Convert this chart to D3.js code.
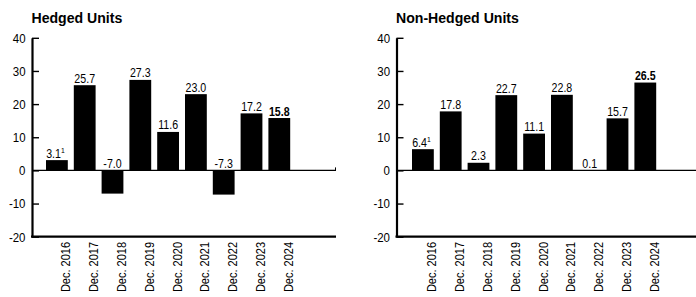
<!DOCTYPE html>
<html><head><meta charset="utf-8">
<script src="https://cdn.jsdelivr.net/npm/d3@7"></script>
<style>
html,body{margin:0;padding:0;background:#fff;}
svg{display:block;}
text{font-family:"Liberation Sans",Arial,sans-serif;fill:#000;}
</style></head>
<body>
<svg id="chart" width="696" height="297"></svg>
<script>
const categories = ["Dec. 2016","Dec. 2017","Dec. 2018","Dec. 2019","Dec. 2020","Dec. 2021","Dec. 2022","Dec. 2023","Dec. 2024"];
const hedgedValues = [3.1, 25.7, -7.0, 27.3, 11.6, 23.0, -7.3, 17.2, 15.8];
const nonHedgedValues = [6.4, 17.8, 2.3, 22.7, 11.1, 22.8, 0.1, 15.7, 26.5];
const yTicks = [40, 30, 20, 10, 0, -10, -20];
const titles = ["Hedged Units", "Non-Hedged Units"];
const footnoteIndex = 0;   // first value carries footnote "1"
const boldIndex = 8;       // last value shown bold

const svg = d3.select("#chart");

function panel(ox, barStart, title, values) {
  const g = svg.append("g");
  const y = d3.scaleLinear().domain([-20, 40]).range([236.7, 37.8]);
  const step = 27.8, bw = 21.8;
  const x = d3.scaleBand().domain(categories)
    .range([barStart - (step - bw) / 2, barStart - (step - bw) / 2 + step * categories.length])
    .paddingInner((step - bw) / step).paddingOuter((step - bw) / step / 2);
  const right = ox + 304;

  g.append("text").attr("transform", `translate(${ox - 0.5},23) scale(0.91,1)`)
    .attr("font-size", 15.5).attr("font-weight", "bold").text(title);

  // bars
  g.selectAll("rect.bar").data(values).enter().append("rect")
    .attr("x", (d, i) => x(categories[i]))
    .attr("width", x.bandwidth())
    .attr("y", d => y(Math.max(0, d)))
    .attr("height", d => Math.abs(y(d) - y(0)))
    .attr("fill", "#000");

  // zero line
  g.append("line").attr("x1", ox).attr("x2", right).attr("y1", y(0)).attr("y2", y(0))
    .attr("stroke", "#000").attr("stroke-width", 1.2);
  g.append("line").attr("x1", right - 0.5).attr("x2", right - 0.5).attr("y1", y(0) - 3).attr("y2", y(0))
    .attr("stroke", "#000").attr("stroke-width", 1);

  // y axis
  const ax = g.append("g").attr("transform", `translate(${ox},0)`)
    .call(d3.axisLeft(y).tickValues(yTicks).tickFormat(d => String(d))
      .tickSizeInner(-7).tickSizeOuter(0).tickPadding(6));
  ax.select(".domain").attr("stroke-width", 2.2);
  ax.selectAll(".tick line").attr("stroke-width", 1.4);
  ax.selectAll(".tick text").attr("font-size", 13.5)
    .style("font-family", '"Liberation Sans",Arial,sans-serif')
    .attr("x", -6.5 / 0.85)
    .attr("transform", "scale(0.85,1)");

  // bottom line
  g.append("line").attr("x1", ox - 1).attr("x2", right).attr("y1", y(-20)).attr("y2", y(-20))
    .attr("stroke", "#000").attr("stroke-width", 2.2);

  // value labels
  const lab = g.selectAll("text.val").data(values).enter().append("text")
    .attr("class", "val")
    .attr("transform", (d, i) => `translate(${x(categories[i]) + x.bandwidth() / 2 + (i === footnoteIndex ? -1.5 : 0)},${y(Math.max(0, d)) - 2.5}) scale(0.85,1)`)
    .attr("text-anchor", "middle")
    .attr("font-size", 12.5)
    .attr("font-weight", (d, i) => i === boldIndex ? "bold" : "normal");
  lab.append("tspan").text(d => d.toFixed(1));
  lab.filter((d, i) => i === footnoteIndex).append("tspan")
    .attr("font-size", 8).attr("dy", -5).text("1");

  // category labels
  g.selectAll("text.cat").data(categories).enter().append("text")
    .attr("class", "cat")
    .attr("transform", d => `translate(${x(d) + x.bandwidth() / 2 + 13.5},242) rotate(-90) scale(0.88,1)`)
    .attr("text-anchor", "end")
    .attr("font-size", 12.5)
    .text(d => d);
}

panel(32, 46, titles[0], hedgedValues);
panel(396.5, 412, titles[1], nonHedgedValues);
</script>
</body></html>
